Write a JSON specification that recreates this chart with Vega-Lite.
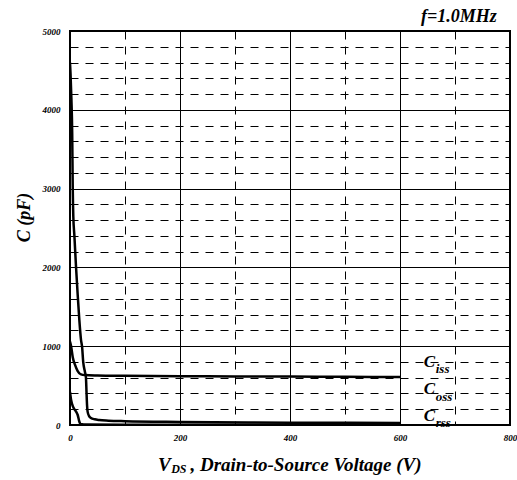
{
  "$schema": "https://vega.github.io/schema/vega-lite/v6.json",
  "width": 440,
  "height": 394,
  "autosize": "none",
  "padding": {"left": 70, "top": 31, "right": 7, "bottom": 55},
  "background": "white",
  "config": {
    "view": {"stroke": "#000", "strokeWidth": 2},
    "font": "Liberation Serif"
  },
  "datasets": {
    "curves": [
      {"series": "Ciss", "V": 0, "C": 1060},
      {"series": "Ciss", "V": 2, "C": 1000},
      {"series": "Ciss", "V": 5, "C": 860},
      {"series": "Ciss", "V": 9, "C": 765},
      {"series": "Ciss", "V": 14, "C": 685},
      {"series": "Ciss", "V": 20, "C": 642},
      {"series": "Ciss", "V": 27, "C": 633},
      {"series": "Ciss", "V": 50, "C": 628},
      {"series": "Ciss", "V": 100, "C": 624},
      {"series": "Ciss", "V": 200, "C": 620},
      {"series": "Ciss", "V": 300, "C": 617},
      {"series": "Ciss", "V": 400, "C": 614},
      {"series": "Ciss", "V": 500, "C": 611},
      {"series": "Ciss", "V": 600, "C": 608},
      {"series": "Coss", "V": 0, "C": 4600},
      {"series": "Coss", "V": 1, "C": 4450},
      {"series": "Coss", "V": 2.5, "C": 4150},
      {"series": "Coss", "V": 4, "C": 3700},
      {"series": "Coss", "V": 5, "C": 3000},
      {"series": "Coss", "V": 6, "C": 2650},
      {"series": "Coss", "V": 8, "C": 2400},
      {"series": "Coss", "V": 11, "C": 2000},
      {"series": "Coss", "V": 14, "C": 1650},
      {"series": "Coss", "V": 17, "C": 1330},
      {"series": "Coss", "V": 20, "C": 1080},
      {"series": "Coss", "V": 22, "C": 990},
      {"series": "Coss", "V": 24, "C": 800},
      {"series": "Coss", "V": 27, "C": 680},
      {"series": "Coss", "V": 29, "C": 600},
      {"series": "Coss", "V": 30, "C": 420},
      {"series": "Coss", "V": 31, "C": 250},
      {"series": "Coss", "V": 32, "C": 170},
      {"series": "Coss", "V": 35, "C": 110},
      {"series": "Coss", "V": 38, "C": 89},
      {"series": "Coss", "V": 45, "C": 72},
      {"series": "Coss", "V": 53, "C": 63},
      {"series": "Coss", "V": 70, "C": 55},
      {"series": "Coss", "V": 100, "C": 48},
      {"series": "Coss", "V": 200, "C": 38},
      {"series": "Coss", "V": 400, "C": 30},
      {"series": "Coss", "V": 600, "C": 25},
      {"series": "Crss", "V": 0, "C": 420},
      {"series": "Crss", "V": 2, "C": 317},
      {"series": "Crss", "V": 6, "C": 225},
      {"series": "Crss", "V": 11, "C": 169},
      {"series": "Crss", "V": 14, "C": 127},
      {"series": "Crss", "V": 17, "C": 42},
      {"series": "Crss", "V": 19, "C": 12},
      {"series": "Crss", "V": 25, "C": 6},
      {"series": "Crss", "V": 100, "C": 4},
      {"series": "Crss", "V": 600, "C": 3}
    ],
    "labels": [
      {"kind": "plotMain", "t": "C", "V": 643, "C": 740},
      {"kind": "plotSub", "t": "iss", "V": 665, "C": 656},
      {"kind": "plotMain", "t": "C", "V": 643, "C": 393},
      {"kind": "plotSub", "t": "oss", "V": 665, "C": 305},
      {"kind": "plotMain", "t": "C", "V": 643, "C": 50},
      {"kind": "plotSub", "t": "rss", "V": 665, "C": -25},
      {"kind": "titleMain", "t": "V", "V": 160, "C": -584},
      {"kind": "titleSub", "t": "DS", "V": 184, "C": -609},
      {"kind": "titleMain", "t": ", Drain-to-Source Voltage (V)", "V": 219, "C": -584},
      {"kind": "freq", "t": "f=1.0MHz", "V": 776, "C": 5114}
    ]
  },
  "encoding": {
    "x": {
      "field": "V",
      "type": "quantitative",
      "scale": {"domain": [0, 800], "nice": false, "zero": false},
      "axis": {
        "title": null,
        "values": [0, 100, 200, 300, 400, 500, 600, 700, 800],
        "labelExpr": "datum.value % 200 === 0 ? datum.label : ''",
        "format": "d",
        "labelFont": "Liberation Serif",
        "labelFontStyle": "italic",
        "labelFontWeight": "bold",
        "labelFontSize": 9,
        "labelColor": "#000",
        "labelPadding": 8,
        "labelFlush": false,
        "labelOverlap": false,
        "ticks": false,
        "domain": false,
        "grid": true,
        "gridColor": "#000",
        "gridOpacity": 1,
        "gridWidth": 1,
        "gridDash": {"condition": {"test": "datum.value % 200 !== 0", "value": [8, 7]}, "value": []}
      }
    },
    "y": {
      "field": "C",
      "type": "quantitative",
      "scale": {"domain": [0, 5000], "nice": false, "zero": false},
      "axis": {
        "title": "C (pF)",
        "titleFont": "Liberation Serif",
        "titleFontStyle": "italic",
        "titleFontWeight": "bold",
        "titleFontSize": 18,
        "titleColor": "#000",
        "titleAngle": -90,
        "titleAlign": "center",
        "titleBaseline": "middle",
        "titleX": -46,
        "titleY": 186,
        "values": [0, 200, 400, 600, 800, 1000, 1200, 1400, 1600, 1800, 2000, 2200, 2400, 2600, 2800, 3000, 3200, 3400, 3600, 3800, 4000, 4200, 4400, 4600, 4800, 5000],
        "labelExpr": "datum.value % 1000 === 0 ? datum.label : ''",
        "format": "d",
        "labelFont": "Liberation Serif",
        "labelFontStyle": "italic",
        "labelFontWeight": "bold",
        "labelFontSize": 9,
        "labelColor": "#000",
        "labelPadding": 10,
        "labelFlush": false,
        "labelOverlap": false,
        "ticks": false,
        "domain": false,
        "grid": true,
        "gridColor": "#000",
        "gridOpacity": 1,
        "gridWidth": 1,
        "gridDash": {"condition": {"test": "datum.value % 1000 !== 0", "value": [8, 7]}, "value": []}
      }
    }
  },
  "layer": [
    {
      "data": {"name": "curves"},
      "mark": {"type": "line", "color": "#000", "strokeWidth": 2.5, "interpolate": "monotone", "clip": true},
      "encoding": {"detail": {"field": "series", "type": "nominal"}}
    },
    {
      "data": {"name": "labels"},
      "transform": [{"filter": "datum.kind === 'plotMain'"}],
      "mark": {"type": "text", "align": "left", "baseline": "alphabetic", "fontSize": 17, "font": "Liberation Serif", "fontStyle": "italic", "fontWeight": "bold", "color": "#000"},
      "encoding": {"text": {"field": "t", "type": "nominal"}}
    },
    {
      "data": {"name": "labels"},
      "transform": [{"filter": "datum.kind === 'plotSub'"}],
      "mark": {"type": "text", "align": "left", "baseline": "alphabetic", "fontSize": 13, "font": "Liberation Serif", "fontStyle": "italic", "fontWeight": "bold", "color": "#000"},
      "encoding": {"text": {"field": "t", "type": "nominal"}}
    },
    {
      "data": {"name": "labels"},
      "transform": [{"filter": "datum.kind === 'titleMain'"}],
      "mark": {"type": "text", "align": "left", "baseline": "alphabetic", "fontSize": 19, "font": "Liberation Serif", "fontStyle": "italic", "fontWeight": "bold", "color": "#000"},
      "encoding": {"text": {"field": "t", "type": "nominal"}}
    },
    {
      "data": {"name": "labels"},
      "transform": [{"filter": "datum.kind === 'titleSub'"}],
      "mark": {"type": "text", "align": "left", "baseline": "alphabetic", "fontSize": 12, "font": "Liberation Serif", "fontStyle": "italic", "fontWeight": "bold", "color": "#000"},
      "encoding": {"text": {"field": "t", "type": "nominal"}}
    },
    {
      "data": {"name": "labels"},
      "transform": [{"filter": "datum.kind === 'freq'"}],
      "mark": {"type": "text", "align": "right", "baseline": "alphabetic", "fontSize": 18, "font": "Liberation Serif", "fontStyle": "italic", "fontWeight": "bold", "color": "#000"},
      "encoding": {"text": {"field": "t", "type": "nominal"}}
    }
  ]
}
